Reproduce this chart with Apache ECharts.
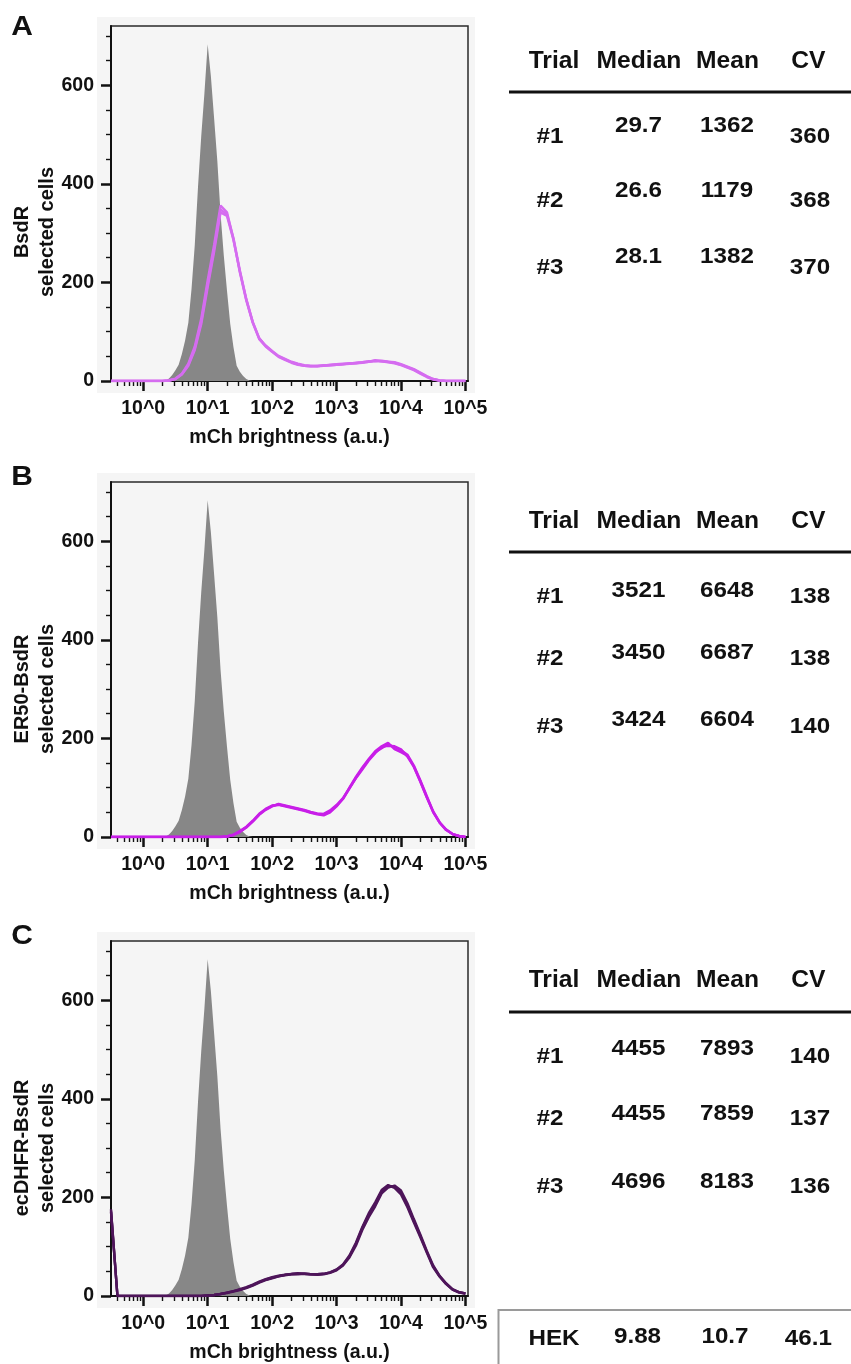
<!DOCTYPE html>
<html><head><meta charset="utf-8">
<script src="https://cdn.jsdelivr.net/npm/echarts@6/dist/echarts.min.js"></script>
<style>html,body{margin:0;padding:0;background:#fff}#chart{width:851px;height:1364px}</style>
</head><body><div id="chart"></div>
<script>
// ---------- DATA ----------
// x positions are log10(mCh brightness)
const logGrid = [-0.5,-0.4,-0.3,-0.2,-0.1,0,0.1,0.2,0.3,0.4,0.5,0.6,0.7,0.8,0.9,1,1.1,1.2,1.3,1.4,1.5,1.6,1.7,1.8,1.9,2,2.1,2.2,2.3,2.4,2.5,2.6,2.7,2.8,2.9,3,3.1,3.2,3.3,3.4,3.5,3.6,3.7,3.8,3.9,4,4.1,4.2,4.3,4.4,4.5,4.6,4.7,4.8,4.9,5];

// HEK control (grey filled histogram, same in all panels)
const grayLog = [0.3,0.35,0.4,0.45,0.5,0.55,0.6,0.65,0.7,0.75,0.8,0.85,0.9,0.95,1.0,1.05,1.1,1.15,1.2,1.25,1.3,1.35,1.4,1.45,1.5,1.55,1.6,1.65,1.7];
const grayCounts = [0,1,5,12,22,33,55,82,118,187,276,393,496,584,683,618,533,446,339,255,183,116,69,31,19,10,4,1,0];

// Panel A: BsdR selected cells
const aTrial1 = [0,0,0,0,0,0,0,0,0,1,4,14,33,66,120,196,268,348,338,290,224,166,120,87,71,60,50,44,38,34,31,30,30,31,32,33,34,35,36,38,39,41,40,39,37,33,28,23,16,9,4,1,0,0,0,0];
const aTrial2 = [0,0,0,0,0,0,0,0,0,1,5,15,35,70,126,204,276,356,342,288,220,163,118,85,70,59,49,43,37,33,31,30,31,31,33,34,35,35,37,38,40,40,41,39,38,34,29,24,17,10,4,1,0,0,0,0];
const aTrial3 = [0,0,0,0,0,0,0,0,0,1,4,13,31,63,115,190,262,342,335,286,222,165,119,86,72,61,51,45,39,35,32,31,30,32,32,33,34,36,36,37,39,42,40,38,36,32,27,22,15,8,3,1,0,0,0,0];

// Panel B: ER50-BsdR selected cells
const bTrial1 = [0,0,0,0,0,0,0,0,0,0,0,0,0,0,0,0,0,0,1,4,11,20,32,46,56,63,66,63,60,57,54,50,47,45,52,63,77,98,120,139,157,172,180,188,182,176,167,145,115,83,52,30,15,6,2,0];
const bTrial2 = [0,0,0,0,0,0,0,0,0,0,0,0,0,0,0,0,0,0,1,5,12,21,33,47,57,64,65,62,59,56,53,49,46,44,50,62,78,100,122,141,158,174,184,191,178,172,165,143,113,81,50,29,14,6,2,0];
const bTrial3 = [0,0,0,0,0,0,0,0,0,0,0,0,0,0,0,0,0,0,1,4,10,19,31,45,55,62,67,64,61,58,55,51,48,47,54,65,79,99,119,137,155,170,183,185,184,178,163,142,112,80,51,29,15,6,2,0];

// Panel C: ecDHFR-BsdR selected cells
const cTrial1 = [173,0,0,0,0,0,0,0,0,0,0,0,0,0,0,1,2,4,7,10,13,17,22,28,33,37,40,43,44,45,45,44,44,45,48,53,63,80,105,138,165,185,212,223,222,210,183,152,122,90,60,40,25,13,8,5];
const cTrial2 = [170,0,0,0,0,0,0,0,0,0,0,0,0,0,0,1,2,4,6,9,12,16,21,27,32,36,40,42,44,44,45,44,43,44,47,52,62,78,102,134,160,182,208,220,224,214,188,156,125,92,62,41,26,14,8,5];
const cTrial3 = [176,0,0,0,0,0,0,0,0,0,0,0,0,0,0,1,2,4,7,10,14,18,23,29,34,38,41,43,45,46,45,44,44,45,48,54,64,82,108,140,168,190,215,225,219,206,180,149,119,88,58,39,24,13,7,5];

// Axis ticks / labels
const xDecades = [0,1,2,3,4,5];
const xMinorMultipliers = [2,3,4,5,6,7,8,9];
const xMinorDecades = [-1,0,1,2,3,4];
const yMajorTicks = [0,200,400,600];
const yMinorTicks = [50,100,150,250,300,350,450,500,550,650,700];

// Tables
const tableHeader = ['Trial','Median','Mean','CV'];
const trialLabels = ['#1','#2','#3'];
const aMedian = ['29.7','26.6','28.1'], aMean = ['1362','1179','1382'], aCV = ['360','368','370'];
const bMedian = ['3521','3450','3424'], bMean = ['6648','6687','6604'], bCV = ['138','138','140'];
const cMedian = ['4455','4455','4696'], cMean = ['7893','7859','8183'], cCV = ['140','137','136'];
const hekRow = ['HEK','9.88','10.7','46.1'];

const panelLetters = ['A','B','C'];
const yTitles = ['BsdR\nselected cells','ER50-BsdR\nselected cells','ecDHFR-BsdR\nselected cells'];
const xTitle = 'mCh brightness (a.u.)';

// ---------- LAYOUT / STYLE ----------
const FONT = '"Liberation Sans", Arial, Helvetica, sans-serif';
const X_MIN = -0.5, X_MAX = 5.04, Y_MAX = 720;
const layout = [
  {top: 26,  titleY: 232,  letterY: 27,  color: '#d56cf0',
   table: {headerY: 62, lineY: 92, rowY: [137, 201, 268], valY: [126, 191, 257]}},
  {top: 482, titleY: 689,  letterY: 477, color: '#c81ee8',
   table: {headerY: 522, lineY: 552, rowY: [597, 659, 727], valY: [591, 653, 720]}},
  {top: 941, titleY: 1148, letterY: 936, color: '#4e155a',
   table: {headerY: 981, lineY: 1012, rowY: [1057, 1119, 1187], valY: [1049, 1114, 1182]}}
];
const trialsByPanel = [[aTrial1,aTrial2,aTrial3],[bTrial1,bTrial2,bTrial3],[cTrial1,cTrial2,cTrial3]];
const tablesByPanel = [[aMedian,aMean,aCV],[bMedian,bMean,bCV],[cMedian,cMean,cCV]];

const xMinorTicks = [];
xMinorDecades.forEach(d => xMinorMultipliers.forEach(m => {
  const v = Math.log10(m) + d;
  if (v > X_MIN && v < X_MAX) xMinorTicks.push(v);
}));

function pairs(xs, ys) { return xs.map((x, i) => [x, ys[i]]); }

const grids = [], xAxes = [], yAxes = [], series = [], graphics = [];
const labelStyle = {fontSize: 19.5, fontWeight: 'bold', fontFamily: FONT, color: '#111'};

layout.forEach((L, i) => {
  grids.push({left: 111, top: L.top, width: 357, height: 355, show: true,
    backgroundColor: '#f5f5f5', borderColor: '#2a2a2a', borderWidth: 1.5,
    containLabel: false, outerBoundsMode: 'none'});
  // major x axis
  xAxes.push({type: 'value', gridIndex: i, min: X_MIN, max: X_MAX, position: 'bottom',
    axisLine: {show: true, onZero: false, lineStyle: {color: '#111', width: 2}},
    axisTick: {show: true, customValues: xDecades, length: 10, lineStyle: {color: '#111', width: 2.5}},
    axisLabel: Object.assign({show: true, customValues: xDecades, margin: 18,
      formatter: v => '10^' + v}, labelStyle),
    splitLine: {show: false},
    name: xTitle, nameLocation: 'middle', nameGap: 47,
    nameTextStyle: {fontSize: 19.5, fontWeight: 'bold', fontFamily: FONT, color: '#111'}});
  // minor x axis
  xAxes.push({type: 'value', gridIndex: i, min: X_MIN, max: X_MAX, position: 'bottom',
    axisLine: {show: false, onZero: false},
    axisTick: {show: true, customValues: xMinorTicks, length: 5, lineStyle: {color: '#111', width: 1.4}},
    axisLabel: {show: false}, splitLine: {show: false}});
  // major y axis
  yAxes.push({type: 'value', gridIndex: i, min: 0, max: Y_MAX, position: 'left',
    axisLine: {show: true, onZero: false, lineStyle: {color: '#111', width: 2}},
    axisTick: {show: true, customValues: yMajorTicks, length: 10, lineStyle: {color: '#111', width: 2.5}},
    axisLabel: Object.assign({show: true, customValues: yMajorTicks, margin: 17}, labelStyle),
    splitLine: {show: false}});
  // minor y axis
  yAxes.push({type: 'value', gridIndex: i, min: 0, max: Y_MAX, position: 'left',
    axisLine: {show: false, onZero: false},
    axisTick: {show: true, customValues: yMinorTicks, length: 5, lineStyle: {color: '#111', width: 1.4}},
    axisLabel: {show: false}, splitLine: {show: false}});

  series.push({type: 'line', xAxisIndex: 2 * i, yAxisIndex: 2 * i, data: pairs(grayLog, grayCounts),
    showSymbol: false, lineStyle: {width: 0}, areaStyle: {color: '#878787', opacity: 1}, z: 2});
  trialsByPanel[i].forEach(t => {
    series.push({type: 'line', xAxisIndex: 2 * i, yAxisIndex: 2 * i, data: pairs(logGrid, t),
      showSymbol: false, lineStyle: {width: 2.4, color: L.color}, z: 3});
  });

  // outer light background band
  graphics.push({type: 'rect', z: -100, shape: {x: 97, y: L.top - 9, width: 378, height: 376},
    style: {fill: '#f5f5f5'}});
  // panel letter
  graphics.push({type: 'text', x: 22, y: L.letterY, scaleX: 1.07, z: 100,
    style: {text: panelLetters[i], fill: '#111', font: 'bold 28px ' + FONT,
      textAlign: 'center', textVerticalAlign: 'middle', verticalAlign: 'middle'}});
  // y title
  graphics.push({type: 'text', x: 34.5, y: L.titleY, rotation: Math.PI / 2, z: 100,
    style: {text: yTitles[i], fill: '#111', font: 'bold 20px ' + FONT, lineHeight: 25,
      textAlign: 'center', textVerticalAlign: 'middle', verticalAlign: 'middle'}});

  // table
  const T = L.table;
  const headX = [554, 639, 727.5, 808.3];
  const rowX = [550, 638.5, 727, 810];
  tableHeader.forEach((h, k) => graphics.push({type: 'text', x: headX[k], y: T.headerY, scaleX: 1.07, z: 100,
    style: {text: h, fill: '#111', font: 'bold 23px ' + FONT, textAlign: 'center',
      textVerticalAlign: 'middle', verticalAlign: 'middle'}}));
  graphics.push({type: 'line', z: 100, shape: {x1: 509, y1: T.lineY, x2: 851, y2: T.lineY},
    style: {stroke: '#111', lineWidth: 3}});
  const cols = tablesByPanel[i];
  trialLabels.forEach((lab, r) => {
    const cells = [[lab, T.rowY[r]], [cols[0][r], T.valY[r]], [cols[1][r], T.valY[r]], [cols[2][r], T.rowY[r]]];
    cells.forEach((c, k) => graphics.push({type: 'text', x: rowX[k], y: c[1], scaleX: 1.1, z: 100,
      style: {text: c[0], fill: '#111', font: 'bold 22px ' + FONT, textAlign: 'center',
        textVerticalAlign: 'middle', verticalAlign: 'middle'}}));
  });
});

// HEK box
graphics.push({type: 'rect', z: 100, shape: {x: 498.5, y: 1310, width: 400, height: 80},
  style: {fill: 'none', stroke: '#9a9a9a', lineWidth: 2}});
const hekX = [554, 637.5, 725, 808.3];
const hekY = [1339, 1337, 1337, 1339];
hekRow.forEach((t, k) => graphics.push({type: 'text', x: hekX[k], y: hekY[k], scaleX: 1.1, z: 100,
  style: {text: t, fill: '#111', font: 'bold 22px ' + FONT, textAlign: 'center',
    textVerticalAlign: 'middle', verticalAlign: 'middle'}}));

const chart = echarts.init(document.getElementById('chart'), null, {renderer: 'canvas'});
chart.setOption({
  animation: false,
  backgroundColor: '#ffffff',
  grid: grids, xAxis: xAxes, yAxis: yAxes, series: series,
  graphic: {elements: graphics}
});
</script></body></html>
